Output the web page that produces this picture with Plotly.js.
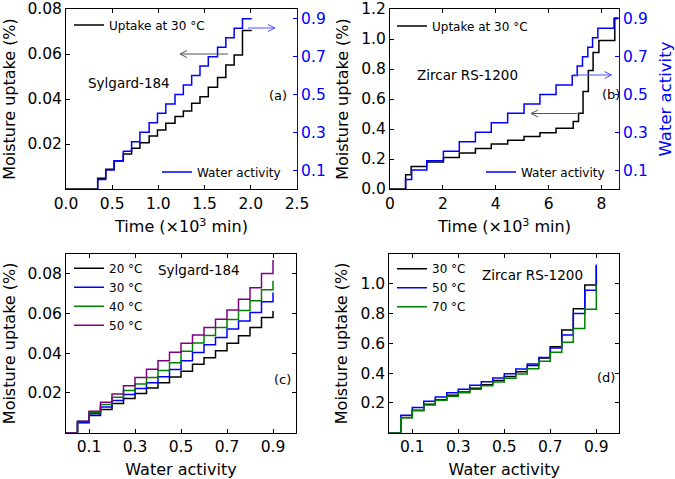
<!DOCTYPE html>
<html><head><meta charset="utf-8">
<script src="https://cdn.plot.ly/plotly-3.0.1.min.js"></script>
<style>html,body{margin:0;padding:0;background:#fff}</style>
</head><body><div id="chart" style="width:675px;height:479px"></div>
<script>
// ---------- DATA ----------
// water-activity levels of the sorption steps
const awLevels = [0.05,0.10,0.15,0.20,0.25,0.30,0.35,0.40,0.45,0.50,0.55,0.60,0.65,0.70,0.75,0.80,0.85,0.90];

// (a) Sylgard-184, uptake at 30 °C vs time (x10^3 min)
const stepTimesA = [0.343,0.43,0.52,0.62,0.71,0.80,0.90,0.99,1.08,1.18,1.27,1.36,1.45,1.54,1.64,1.73,1.82,1.91];
const endTimeA = 2.01;
const uptakeA = [0.0048,0.0088,0.0124,0.0156,0.0181,0.0206,0.0236,0.0262,0.0292,0.0322,0.0347,0.0381,0.0410,0.0452,0.0496,0.0551,0.0596,0.0704];

// (b) Zircar RS-1200, uptake at 30 °C vs time (x10^3 min)
const stepTimesB = [0.59,0.82,1.39,2.02,2.62,3.23,3.83,4.45,5.07,5.67,6.28,6.89,7.08,7.28,7.48,7.66,7.86,8.47];
const endTimeB = 8.60;
const uptakeTimesB = [0.59,0.80,1.39,2.02,2.62,3.23,3.83,4.45,5.07,5.67,6.28,6.93,7.13,7.30,7.50,7.68,7.90,8.50];
const uptakeEndB = 8.63;
const uptakeB = [0.095,0.150,0.180,0.210,0.240,0.270,0.300,0.325,0.350,0.375,0.405,0.450,0.505,0.650,0.790,0.910,0.990,1.140];

// (c) Sylgard-184 uptake vs water activity
const sylg20 = [0.0050,0.0087,0.0117,0.0147,0.0172,0.0197,0.0225,0.0252,0.0280,0.0310,0.0345,0.0378,0.0413,0.0450,0.0488,0.0530,0.0580,0.0613];
const sylg30 = [0.0053,0.0095,0.0130,0.0162,0.0192,0.0222,0.0252,0.0282,0.0318,0.0362,0.0404,0.0443,0.0480,0.0522,0.0563,0.0606,0.0660,0.0706];
const sylg40 = [0.0058,0.0103,0.0142,0.0178,0.0212,0.0245,0.0278,0.0313,0.0352,0.0410,0.0452,0.0490,0.0530,0.0570,0.0615,0.0665,0.0720,0.0765];
const sylg50 = [0.0058,0.0108,0.0153,0.0195,0.0237,0.0278,0.0320,0.0362,0.0405,0.0450,0.0492,0.0530,0.0572,0.0618,0.0672,0.0730,0.0802,0.0870];
const sylgLabels = ['20 °C','30 °C','40 °C','50 °C'];

// (d) Zircar RS-1200 uptake vs water activity
const zirc30 = [0.102,0.151,0.191,0.222,0.251,0.273,0.298,0.322,0.351,0.378,0.409,0.451,0.502,0.578,0.689,0.833,0.991,1.120];
const zirc50 = [0.118,0.169,0.211,0.240,0.269,0.291,0.318,0.342,0.367,0.396,0.427,0.462,0.505,0.569,0.656,0.800,0.956,1.130];
const zirc70 = [0.100,0.148,0.186,0.218,0.245,0.268,0.292,0.315,0.340,0.365,0.395,0.430,0.480,0.540,0.607,0.700,0.829,0.996];
const zircLabels = ['30 °C','50 °C','70 °C'];

// ---------- BUILD ----------
const W = 675, H = 479;
const FONT = 'DejaVu Sans, sans-serif';
const px = v => v / W, py = v => 1 - v / H;

function stepTrace(times, vals, tEnd, startAtZeroTime) {
  const x = startAtZeroTime ? [0].concat(times, [tEnd]) : [times[0]].concat(times, [tEnd]);
  const y = [0].concat(vals, [vals[vals.length - 1]]);
  return {x, y};
}
function awTrace(vals) {
  return {x: [0].concat(awLevels), y: [0].concat(vals)};
}
const LW = 1.5;
const traces = [];
// (a)
let s = stepTrace(stepTimesA, uptakeA, endTimeA, true);
traces.push({x: s.x, y: s.y, xaxis: 'x', yaxis: 'y', mode: 'lines', line: {shape: 'hv', color: 'black', width: LW}, name: 'Uptake at 30 °C', legend: 'legend'});
s = stepTrace(stepTimesA, awLevels, endTimeA, false);
traces.push({x: s.x, y: s.y, xaxis: 'x', yaxis: 'y2', mode: 'lines', line: {shape: 'hv', color: 'blue', width: LW}, name: 'Water activity', legend: 'legend2'});
// (b)
s = stepTrace(uptakeTimesB, uptakeB, uptakeEndB, true);
traces.push({x: s.x, y: s.y, xaxis: 'x2', yaxis: 'y3', mode: 'lines', line: {shape: 'hv', color: 'black', width: LW}, name: 'Uptake at 30 °C', legend: 'legend3'});
s = stepTrace(stepTimesB, awLevels, endTimeB, false);
traces.push({x: s.x, y: s.y, xaxis: 'x2', yaxis: 'y4', mode: 'lines', line: {shape: 'hv', color: 'blue', width: LW}, name: 'Water activity', legend: 'legend4'});
// (c)
const sylgSeries = [sylg20, sylg30, sylg40, sylg50];
const sylgColors = ['black', 'blue', 'green', 'purple'];
sylgSeries.forEach((v, i) => {
  const t = awTrace(v);
  traces.push({x: t.x, y: t.y, xaxis: 'x3', yaxis: 'y5', mode: 'lines', line: {shape: 'hv', color: sylgColors[i], width: LW}, name: sylgLabels[i], legend: 'legend5'});
});
// (d)
const zircSeries = [zirc30, zirc50, zirc70];
const zircColors = ['black', 'blue', 'green'];
zircSeries.forEach((v, i) => {
  const t = awTrace(v);
  traces.push({x: t.x, y: t.y, xaxis: 'x4', yaxis: 'y6', mode: 'lines', line: {shape: 'hv', color: zircColors[i], width: LW}, name: zircLabels[i], legend: 'legend6'});
});

const tickF = {family: FONT, size: 15.5, color: 'black'};
const titleF = {family: FONT, size: 16, color: 'black'};
function xax(dom, anchor, range, vals, fmt, title, standoff) {
  return {domain: dom, anchor, range, tickvals: vals, tickformat: fmt, showline: true, mirror: 'ticks', linecolor: 'black', linewidth: 1,
    ticks: 'inside', ticklen: 4, tickcolor: 'black', showgrid: false, zeroline: false, tickfont: tickF,
    title: {text: title, font: titleF, standoff: standoff}};
}
function yax(dom, anchor, range, vals, fmt, title, mirror) {
  return {domain: dom, anchor, range, tickvals: vals, tickformat: fmt, showline: true, mirror: mirror, linecolor: 'black', linewidth: 1,
    ticks: 'inside', ticklen: 4, tickcolor: 'black', showgrid: false, zeroline: false, tickfont: tickF,
    title: {text: title, font: titleF, standoff: 8}};
}
function y2ax(over, anchor, title) {
  const ax = {overlaying: over, anchor, side: 'right', range: [0, 0.952], tickvals: [0.1, 0.3, 0.5, 0.7, 0.9], tickformat: '.1f',
    showline: true, linecolor: 'blue', linewidth: 1, ticks: 'inside', ticklen: 4, tickcolor: 'blue', showgrid: false, zeroline: false,
    tickfont: {family: FONT, size: 15.5, color: 'blue'}};
  if (title) ax.title = {text: title, font: {family: FONT, size: 16.5, color: 'blue'}, standoff: 12};
  return ax;
}
const topDom = [py(189), py(9)], botDom = [py(432.7), py(254)];
const timeTitle = 'Time (×10<sup>3</sup> min)';
const mu = 'Moisture uptake (%)';

function legendAt(xpx, ypx, anchor) {
  return {x: px(xpx), y: py(ypx), xanchor: 'left', yanchor: anchor || 'middle', bgcolor: 'rgba(0,0,0,0)', borderwidth: 0,
    font: {family: FONT, size: 12, color: 'black'}, tracegroupgap: 0};
}
function ann(text, xpx, ypx, size) {
  return {text, x: px(xpx), y: py(ypx), xref: 'paper', yref: 'paper', showarrow: false, xanchor: 'center', yanchor: 'middle',
    font: {family: FONT, size: size || 13.5, color: 'black'}};
}
function arrowPath(x1, y1, x2, y2) {
  // shaft from (x1,y1) to head (x2,y2), open chevron at head
  const dir = Math.sign(x2 - x1);
  const hx = x2 - dir * 7;
  return 'M' + px(x1) + ',' + py(y1) + ' L' + px(x2) + ',' + py(y2) +
    ' M' + px(hx) + ',' + py(y2 - 3.5) + ' L' + px(x2) + ',' + py(y2) + ' L' + px(hx) + ',' + py(y2 + 3.5);
}
const shapes = [
  {type: 'path', xref: 'paper', yref: 'paper', path: arrowPath(228, 54, 180, 54), line: {color: '#555555', width: 1}},
  {type: 'path', xref: 'paper', yref: 'paper', path: arrowPath(248, 28, 275, 28), line: {color: '#5050ff', width: 1}},
  {type: 'path', xref: 'paper', yref: 'paper', path: arrowPath(577, 113.5, 531, 113.5), line: {color: '#555555', width: 1}},
  {type: 'path', xref: 'paper', yref: 'paper', path: arrowPath(573, 75, 611.5, 75), line: {color: '#5050ff', width: 1}}
];

const layout = {
  width: W, height: H, margin: {l: 0, r: 0, t: 0, b: 0}, paper_bgcolor: 'white', plot_bgcolor: 'rgba(0,0,0,0)',
  font: {family: FONT, color: 'black'}, showlegend: true,
  xaxis: xax([px(66), px(297)], 'y', [0, 2.5], [0, 0.5, 1.0, 1.5, 2.0, 2.5], '.1f', timeTitle, 9),
  yaxis: yax(topDom, 'x', [0, 0.08], [0.02, 0.04, 0.06, 0.08], '.2f', mu, false),
  yaxis2: y2ax('y', 'x', ''),
  xaxis2: xax([px(390), px(619)], 'y3', [0, 8.66], [0, 2, 4, 6, 8], 'd', timeTitle, 9),
  yaxis3: yax(topDom, 'x2', [0, 1.2], [0, 0.2, 0.4, 0.6, 0.8, 1.0, 1.2], '.1f', mu, false),
  yaxis4: y2ax('y3', 'x2', 'Water activity'),
  xaxis3: xax([px(66), px(296)], 'y5', [0, 1.0], [0.1, 0.3, 0.5, 0.7, 0.9], '.1f', 'Water activity', 8),
  yaxis5: yax(botDom, 'x3', [0, 0.09], [0.02, 0.04, 0.06, 0.08], '.2f', mu, 'ticks'),
  xaxis4: xax([px(389.3), px(619.3)], 'y6', [0, 1.0], [0.1, 0.3, 0.5, 0.7, 0.9], '.1f', 'Water activity', 8),
  yaxis6: yax(botDom, 'x4', [0, 1.2], [0.2, 0.4, 0.6, 0.8, 1.0], '.1f', mu, 'ticks'),
  legend: legendAt(69, 25),
  legend2: legendAt(157, 172),
  legend3: legendAt(392, 26),
  legend4: legendAt(481, 172),
  legend5: legendAt(69, 296.7),
  legend6: legendAt(392, 287.7),
  annotations: [
    ann('Sylgard-184', 129, 83), ann('(a)', 278, 96, 13),
    ann('Zircar RS-1200', 467.5, 75), ann('(b)', 610.5, 95, 13),
    ann('Sylgard-184', 199, 269.5), ann('(c)', 282, 379.5, 13),
    ann('Zircar RS-1200', 532.5, 274.5), ann('(d)', 606, 377, 13)
  ],
  shapes
};
Plotly.newPlot('chart', traces, layout, {staticPlot: true, displayModeBar: false});
</script></body></html>
